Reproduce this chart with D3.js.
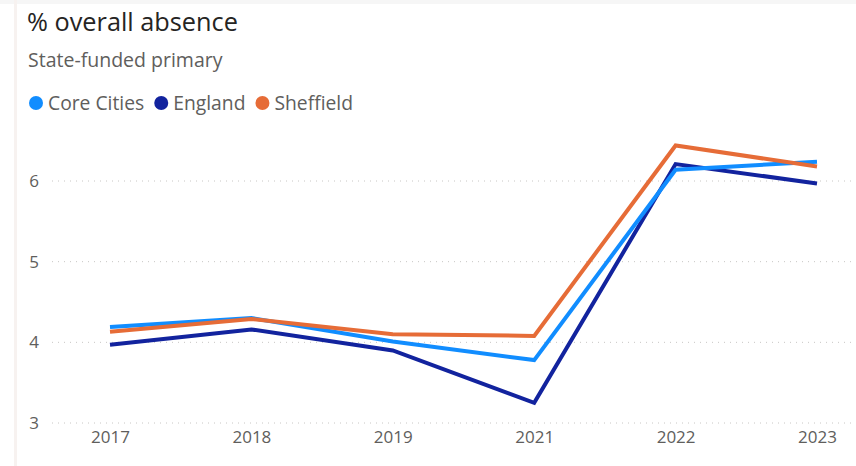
<!DOCTYPE html>
<html><head><meta charset="utf-8">
<script src="https://cdn.jsdelivr.net/npm/d3@7"></script>
<style>
html,body{margin:0;padding:0;background:#fff;}
svg{display:block;font-family:"Open Sans","Noto Sans",sans-serif;}
</style></head>
<body><svg id="chart" width="856" height="466"></svg>
<script>
const years = ["2017","2018","2019","2021","2022","2023"];
const coreCities = [4.19, 4.30, 4.01, 3.78, 6.14, 6.24];
const england = [3.97, 4.16, 3.90, 3.25, 6.21, 5.97];
const sheffield = [4.13, 4.29, 4.10, 4.08, 6.44, 6.18];
const yTicks = [3, 4, 5, 6];
const seriesNames = ["Core Cities", "England", "Sheffield"];
const seriesColors = ["#118DFF", "#12239E", "#E66C37"];

const svg = d3.select("#chart");
const W = 856, H = 466;

const x = d3.scalePoint().domain(years).range([110, 817]);
const y = d3.scaleLinear().domain([3, 6]).range([423, 181]);

// faint card edge
svg.append("rect").attr("x", 0).attr("y", 0).attr("width", W).attr("height", 4).attr("fill", "#F6F6F6");
svg.append("rect").attr("x", 14).attr("y", 0).attr("width", 3).attr("height", H).attr("fill", "#F7F2F0");

// title
svg.append("text").attr("x", 27).attr("y", 31).attr("font-size", 25.3).attr("fill", "#252423").text("% overall absence");
svg.append("text").attr("x", 28).attr("y", 67).attr("font-size", 19.5).attr("fill", "#605E5C").text("State-funded primary");

// legend
const leg = svg.append("g");
let lx = 36;
seriesNames.forEach((n, i) => {
  leg.append("circle").attr("cx", lx).attr("cy", 103).attr("r", 7).attr("fill", seriesColors[i]);
  const t = leg.append("text").attr("x", lx + 12).attr("y", 110).attr("font-size", 19.3).attr("fill", "#605E5C").text(n);
  lx += 12 + t.node().getComputedTextLength() + 17;
});

// gridlines
svg.append("g").selectAll("line").data(yTicks).join("line")
  .attr("x1", 52).attr("x2", 852)
  .attr("y1", d => y(d)).attr("y2", d => y(d))
  .attr("stroke", "#C8C6C4").attr("stroke-width", 1).attr("stroke-dasharray", "1,5");

// y axis
const yAxis = d3.axisLeft(y).tickValues(yTicks).tickSize(0).tickPadding(0).tickFormat(d3.format("d"));
const gy = svg.append("g").attr("transform", "translate(39,0)").call(yAxis);
gy.select(".domain").remove();
gy.selectAll("text").attr("font-size", 17).attr("fill", "#605E5C").attr("font-family", "Open Sans, Noto Sans, sans-serif");

// x axis
const xAxis = d3.axisBottom(x).tickSize(0).tickPadding(0);
const gx = svg.append("g").attr("transform", "translate(0,431)").call(xAxis);
gx.select(".domain").remove();
gx.selectAll("text").attr("font-size", 17).attr("fill", "#605E5C").attr("font-family", "Open Sans, Noto Sans, sans-serif");

// lines
const line = d3.line().x((d, i) => x(years[i])).y(d => y(d));
const allSeries = [coreCities, england, sheffield];
[1, 0, 2].forEach(i => {
  svg.append("path").datum(allSeries[i]).attr("d", line)
    .attr("fill", "none").attr("stroke", seriesColors[i]).attr("stroke-width", 4)
    .attr("stroke-linejoin", "miter");
});
</script>
</body></html>
